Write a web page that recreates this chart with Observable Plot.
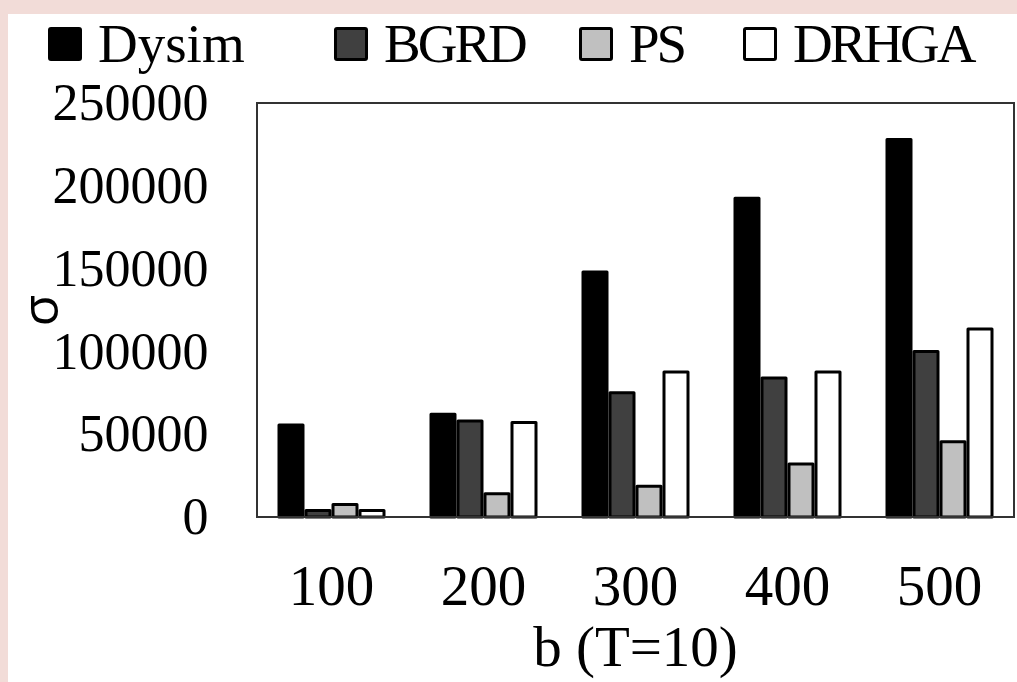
<!DOCTYPE html>
<html>
<head>
<meta charset="utf-8">
<script src="https://cdn.jsdelivr.net/npm/d3@7"></script>
<script src="https://cdn.jsdelivr.net/npm/@observablehq/plot@0.6"></script>
<style>
  html, body { margin: 0; padding: 0; background: #f2dcd8; width: 1017px; height: 682px; overflow: hidden; }
  #panel { position: absolute; left: 8px; top: 14px; width: 1009px; height: 668px; background: #fff; }
  #legend { position: relative; height: 61px; font-family: "Liberation Serif", serif; font-size: 55px; color: #000; }
  .item { position: absolute; top: 0; height: 61px; }
  .swatch { position: absolute; left: 0; top: 13px; width: 34px; height: 34px; box-sizing: border-box; border: 3.5px solid #000; border-radius: 3px; }
  .label { position: absolute; left: 50px; top: 2px; line-height: 55px; white-space: nowrap; }
  #chart svg { display: block; }
</style>
</head>
<body>
<div id="panel">
  <div id="legend"></div>
  <div id="chart"></div>
</div>
<script>
// ---- data ----
const bValues = ["100", "200", "300", "400", "500"];
const seriesNames = ["Dysim", "BGRD", "PS", "DRHGA"];
const dysim = [55500, 62000, 148000, 192500, 228000];
const bgrd  = [4000, 58000, 75000, 84000, 100000];
const ps    = [7500, 14000, 18500, 32000, 45500];
const drhga = [4000, 57000, 87500, 87500, 113500];
const yTicks = [0, 50000, 100000, 150000, 200000, 250000];
const seriesColors = ["#000000", "#404040", "#c0c0c0", "#ffffff"];

const seriesValues = [dysim, bgrd, ps, drhga];
const data = bValues.flatMap((b, i) => seriesNames.map((s, j) => ({ b, series: s, value: seriesValues[j][i] })));

// ---- legend ----
const legendLeft = [40, 326, 571, 735];
const legendLetterSpacing = ["0px", "-3px", "-3px", "-3px"];
const legend = document.getElementById("legend");
seriesNames.forEach((s, i) => {
  const item = document.createElement("div");
  item.className = "item";
  item.style.left = legendLeft[i] + "px";
  const sw = document.createElement("div");
  sw.className = "swatch";
  sw.style.background = seriesColors[i];
  const lab = document.createElement("span");
  lab.className = "label";
  lab.style.letterSpacing = legendLetterSpacing[i];
  lab.textContent = s;
  item.appendChild(sw);
  item.appendChild(lab);
  legend.appendChild(item);
});

// ---- chart ----
const W = 1009, H = 607, mT = 28, mB = 165, mL = 249, mR = 3;
const chart = Plot.plot({
  width: W, height: H,
  marginTop: mT, marginBottom: mB, marginLeft: mL, marginRight: mR,
  style: { fontFamily: "'Liberation Serif', serif", fontSize: "52px", color: "#000", background: "transparent", overflow: "visible" },
  fx: { domain: bValues, paddingInner: 0.287, paddingOuter: 0.122 },
  x: { domain: seriesNames, paddingInner: 0.12, paddingOuter: 0, axis: null },
  y: { domain: [0, 250000] },
  color: { domain: seriesNames, range: seriesColors },
  marks: [
    Plot.barY(data, { fx: "b", x: "series", y: "value", fill: "series", stroke: "#000", strokeWidth: 3, strokeLinejoin: "round" }),
    Plot.axisY({ ticks: yTicks, tickSize: 0, tickPadding: 69, tickFormat: d => String(d), label: "σ", labelArrow: "none", labelAnchor: "center", labelOffset: 256, fontSize: 52 }),
    Plot.axisFx({ anchor: "bottom", tickSize: 0, tickPadding: 47, fontSize: 57, label: "b (T=10)", labelArrow: "none", labelAnchor: "center", labelOffset: 148 })
  ]
});
d3.select(chart).selectAll('[aria-label="y-axis label"] text, [aria-label="y-axis label"]')
  .style("font-family", "'Open Sans', 'Liberation Sans', sans-serif");
d3.select(chart).append("rect")
  .attr("x", mL).attr("y", mT)
  .attr("width", W - mL - mR).attr("height", H - mT - mB)
  .attr("fill", "none").attr("stroke", "#333").attr("stroke-width", 2);
document.getElementById("chart").appendChild(chart);
</script>
</body>
</html>
